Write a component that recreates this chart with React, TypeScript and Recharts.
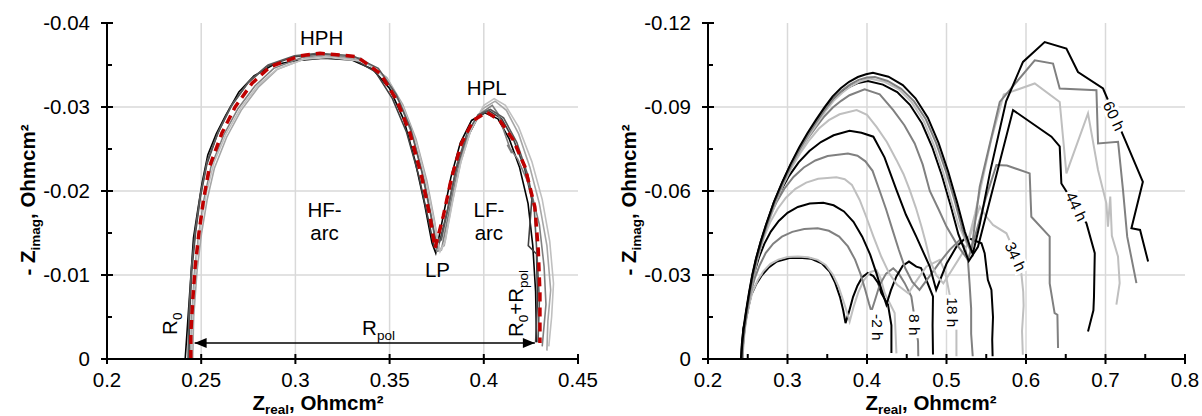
import React from "react";
import {
  LineChart,
  Line,
  XAxis,
  YAxis,
  ReferenceDot,
  ReferenceLine,
} from "recharts";

const FONT = "'Liberation Sans', Arial, Helvetica, sans-serif";

// ---------- left panel: repeated spectra at -2 h + fit ----------
const leftXTicks = [0.2, 0.25, 0.3, 0.35, 0.4, 0.45];
const leftYTicks = [-0.04, -0.035, -0.03, -0.025, -0.02, -0.015, -0.01, -0.005, 0];
const leftYMajor = [-0.04, -0.03, -0.02, -0.01, 0];

const run1 = [[0.2415,0],[0.2459,-0.0144],[0.2478,-0.0172],[0.2505,-0.021],[0.2535,-0.0243],[0.258,-0.0268],[0.263,-0.029],[0.27,-0.0318],[0.278,-0.0337],[0.288,-0.035],[0.3,-0.0355],[0.315,-0.0358],[0.33,-0.0356],[0.341,-0.0345],[0.35,-0.0322],[0.3575,-0.0285],[0.3635,-0.0236],[0.3685,-0.0185],[0.3725,-0.0138],[0.3745,-0.0126],[0.378,-0.0165],[0.3825,-0.0216],[0.3875,-0.0257],[0.3935,-0.0284],[0.4005,-0.0293],[0.4075,-0.0286],[0.4135,-0.0262],[0.419,-0.0228],[0.4235,-0.0185],[0.426,-0.0135],[0.4275,-0.008],[0.428,-0.002]];
const run2 = [[0.2435,0],[0.2438,-0.005],[0.245,-0.0105],[0.247,-0.015],[0.2495,-0.0192],[0.253,-0.0232],[0.2585,-0.0267],[0.2655,-0.03],[0.2745,-0.0328],[0.2845,-0.0348],[0.2995,-0.036],[0.3125,-0.0363],[0.3295,-0.0359],[0.3425,-0.0342],[0.3515,-0.031],[0.359,-0.027],[0.3655,-0.0218],[0.37,-0.0172],[0.3735,-0.0135],[0.376,-0.0135],[0.3805,-0.0175],[0.385,-0.0222],[0.3905,-0.026],[0.3965,-0.0287],[0.4025,-0.0296],[0.4095,-0.0286],[0.416,-0.026],[0.4215,-0.0228],[0.4255,-0.019],[0.4236,-0.0135],[0.428,-0.0125],[0.4285,-0.007],[0.4275,-0.002]];
const run3 = [[0.2445,0],[0.245,-0.005],[0.2465,-0.0105],[0.2488,-0.015],[0.2515,-0.019],[0.2552,-0.0229],[0.262,-0.0267],[0.2695,-0.0298],[0.2785,-0.0325],[0.2885,-0.0346],[0.3035,-0.0359],[0.3145,-0.0362],[0.3345,-0.0358],[0.347,-0.0337],[0.3555,-0.0305],[0.3625,-0.0264],[0.3685,-0.0212],[0.3725,-0.0165],[0.375,-0.0128],[0.3775,-0.013],[0.3815,-0.0175],[0.386,-0.0225],[0.3915,-0.0265],[0.398,-0.0292],[0.4045,-0.0302],[0.4075,-0.0292],[0.4148,-0.0245],[0.4125,-0.0255],[0.418,-0.0238],[0.4245,-0.0205],[0.4295,-0.016],[0.432,-0.011],[0.433,-0.0065],[0.431,-0.0015]];
const run4 = [[0.2455,0],[0.246,-0.005],[0.2478,-0.0105],[0.2502,-0.015],[0.2532,-0.019],[0.257,-0.0227],[0.2635,-0.0264],[0.2712,-0.0296],[0.2805,-0.0324],[0.2905,-0.0345],[0.3055,-0.0358],[0.316,-0.0361],[0.336,-0.0356],[0.3485,-0.0335],[0.357,-0.0303],[0.364,-0.0262],[0.3698,-0.0212],[0.3738,-0.0165],[0.3762,-0.013],[0.379,-0.0135],[0.3828,-0.0182],[0.3875,-0.0232],[0.393,-0.0272],[0.3995,-0.0298],[0.406,-0.0307],[0.412,-0.0296],[0.4185,-0.0268],[0.4245,-0.0228],[0.4295,-0.0185],[0.4335,-0.0135],[0.4355,-0.0082],[0.434,-0.0045],[0.4335,-0.001]];
const run5 = [[0.2448,0],[0.2455,-0.006],[0.2472,-0.0115],[0.2497,-0.016],[0.2528,-0.0198],[0.2568,-0.0234],[0.2632,-0.0268],[0.271,-0.0299],[0.2802,-0.0326],[0.2902,-0.0345],[0.305,-0.0357],[0.318,-0.0359],[0.3375,-0.0354],[0.349,-0.0332],[0.3575,-0.0298],[0.3645,-0.0255],[0.37,-0.0205],[0.374,-0.016],[0.3768,-0.0128],[0.3795,-0.014],[0.3835,-0.0188],[0.388,-0.0236],[0.3935,-0.0275],[0.4,-0.0302],[0.4055,-0.031],[0.4115,-0.0302],[0.4185,-0.0276],[0.4255,-0.0235],[0.431,-0.019],[0.435,-0.014],[0.437,-0.009],[0.436,-0.005],[0.4345,-0.0015]];
const run6 = [[0.243,0],[0.2435,-0.0055],[0.2448,-0.0108],[0.2468,-0.0152],[0.2495,-0.0195],[0.2532,-0.0236],[0.2592,-0.0271],[0.2665,-0.0303],[0.2755,-0.0331],[0.2855,-0.035],[0.2995,-0.0361],[0.312,-0.0364],[0.3305,-0.0361],[0.344,-0.0346],[0.3535,-0.0315],[0.3612,-0.0274],[0.3672,-0.0222],[0.3718,-0.0172],[0.3748,-0.0138],[0.3775,-0.0142],[0.3815,-0.0185],[0.3858,-0.0232],[0.391,-0.0268],[0.397,-0.0291],[0.4035,-0.0297],[0.4105,-0.0287],[0.4175,-0.0258],[0.4235,-0.0218],[0.4268,-0.0178],[0.4282,-0.0125],[0.4295,-0.007],[0.4288,-0.002]];
const fitCurve = [[0.2445,0],[0.2445,-0.003],[0.2455,-0.007],[0.2468,-0.011],[0.2488,-0.015],[0.2512,-0.0189],[0.2544,-0.0229],[0.261,-0.0269],[0.268,-0.03],[0.2769,-0.0328],[0.2866,-0.0348],[0.3025,-0.0361],[0.3131,-0.0364],[0.3326,-0.036],[0.345,-0.034],[0.3538,-0.0308],[0.3608,-0.0269],[0.367,-0.0217],[0.3714,-0.017],[0.3741,-0.0132],[0.3785,-0.017],[0.383,-0.0217],[0.3882,-0.0257],[0.3944,-0.0284],[0.4015,-0.0294],[0.4085,-0.0284],[0.4156,-0.0261],[0.4218,-0.0229],[0.4271,-0.0181],[0.4289,-0.013],[0.4298,-0.0078],[0.4298,-0.0019]];

const leftRuns = [run1, run2, run3, run4, run5, run6];
const leftColors = ["#000000", "#404040", "#7f7f7f", "#a6a6a6", "#c0c0c0", "#595959"];

// ---------- right panel: spectra over time ----------
const rightXTicks = [0.2, 0.25, 0.3, 0.35, 0.4, 0.45, 0.5, 0.55, 0.6, 0.65, 0.7, 0.75, 0.8];
const rightXMajor = [0.2, 0.3, 0.4, 0.5, 0.6, 0.7, 0.8];
const rightYTicks = [-0.12, -0.105, -0.09, -0.075, -0.06, -0.045, -0.03, -0.015, 0];
const rightYMajor = [-0.12, -0.09, -0.06, -0.03, 0];

const eis01 = [[0.242,0],[0.2425,-0.004],[0.2445,-0.011],[0.2488,-0.0155],[0.2512,-0.0189],[0.2544,-0.0229],[0.261,-0.0269],[0.268,-0.03],[0.2769,-0.0328],[0.2866,-0.0348],[0.3025,-0.0361],[0.315,-0.0362],[0.33,-0.0358],[0.343,-0.0342],[0.353,-0.0312],[0.36,-0.0272],[0.366,-0.0222],[0.37,-0.0175],[0.373,-0.0128],[0.3775,-0.017],[0.3825,-0.0222],[0.388,-0.0262],[0.394,-0.0292],[0.401,-0.0307],[0.408,-0.0296],[0.414,-0.0272],[0.418,-0.0235],[0.4264,-0.0194],[0.4307,-0.012],[0.4307,-0.0021]];
const eis02 = [[0.2435,0],[0.244,-0.005],[0.2458,-0.011],[0.2495,-0.0165],[0.2525,-0.0202],[0.256,-0.024],[0.2625,-0.0281],[0.2698,-0.0314],[0.2785,-0.034],[0.2885,-0.0355],[0.3,-0.0364],[0.313,-0.0366],[0.326,-0.0363],[0.338,-0.0354],[0.348,-0.0336],[0.357,-0.0302],[0.364,-0.026],[0.37,-0.021],[0.375,-0.0165],[0.3782,-0.0134],[0.383,-0.0185],[0.389,-0.0238],[0.396,-0.0281],[0.404,-0.031],[0.4118,-0.0318],[0.417,-0.029],[0.4223,-0.0235],[0.4348,-0.0164],[0.436,-0.009],[0.437,-0.002]];
const eis03 = [[0.243,0],[0.2445,-0.007],[0.247,-0.013],[0.2505,-0.019],[0.2545,-0.0245],[0.259,-0.029],[0.265,-0.0335],[0.2725,-0.0378],[0.282,-0.0412],[0.293,-0.0437],[0.306,-0.0454],[0.321,-0.0464],[0.338,-0.0467],[0.352,-0.0458],[0.365,-0.0437],[0.376,-0.0402],[0.385,-0.0355],[0.392,-0.0302],[0.398,-0.0245],[0.4025,-0.0198],[0.4055,-0.017],[0.41,-0.021],[0.416,-0.0265],[0.424,-0.0305],[0.433,-0.0324],[0.44,-0.0305],[0.4474,-0.0271],[0.4558,-0.0223],[0.4642,-0.0063],[0.4645,-0.001]];
const eis04 = [[0.243,0],[0.2443,-0.0065],[0.2465,-0.0125],[0.2498,-0.019],[0.2538,-0.0252],[0.2585,-0.031],[0.264,-0.0362],[0.271,-0.0412],[0.279,-0.0455],[0.289,-0.0493],[0.3,-0.0522],[0.313,-0.0543],[0.328,-0.0555],[0.345,-0.0558],[0.358,-0.0549],[0.371,-0.0527],[0.383,-0.049],[0.394,-0.0437],[0.404,-0.0373],[0.412,-0.0305],[0.4185,-0.0245],[0.4244,-0.0194],[0.43,-0.0245],[0.437,-0.0295],[0.445,-0.0333],[0.4528,-0.0348],[0.462,-0.033],[0.468,-0.0325],[0.475,-0.028],[0.483,-0.0223],[0.4825,-0.012],[0.483,-0.0016]];
const eis05 = [[0.2435,0],[0.2445,-0.0062],[0.2465,-0.0122],[0.2495,-0.0185],[0.2535,-0.0252],[0.258,-0.0315],[0.2635,-0.0375],[0.27,-0.0432],[0.278,-0.0487],[0.2875,-0.0536],[0.298,-0.0576],[0.31,-0.0608],[0.3235,-0.063],[0.3385,-0.0644],[0.3615,-0.0649],[0.372,-0.0642],[0.381,-0.0622],[0.3908,-0.0568],[0.399,-0.0508],[0.408,-0.0438],[0.418,-0.0365],[0.428,-0.0305],[0.438,-0.0265],[0.452,-0.0235],[0.46,-0.027],[0.4747,-0.033],[0.4915,-0.0354],[0.4985,-0.031],[0.504,-0.0229],[0.5125,-0.011],[0.5125,-0.001]];
const eis06 = [[0.2435,0],[0.2443,-0.0062],[0.2462,-0.0122],[0.2492,-0.0185],[0.2532,-0.0252],[0.2577,-0.0318],[0.263,-0.038],[0.2695,-0.0442],[0.277,-0.0502],[0.2858,-0.0558],[0.296,-0.0608],[0.3075,-0.065],[0.3205,-0.0684],[0.335,-0.0709],[0.3505,-0.0725],[0.376,-0.0734],[0.388,-0.0726],[0.398,-0.0706],[0.407,-0.0672],[0.416,-0.06],[0.424,-0.0535],[0.432,-0.0462],[0.44,-0.039],[0.448,-0.0325],[0.457,-0.0275],[0.466,-0.0247],[0.476,-0.0285],[0.49,-0.034],[0.504,-0.039],[0.5166,-0.0425],[0.523,-0.04],[0.527,-0.035],[0.529,-0.027],[0.531,-0.018],[0.531,-0.009],[0.533,-0.001]];
const eis07 = [[0.2425,0],[0.2435,-0.0055],[0.2455,-0.011],[0.2485,-0.017],[0.2525,-0.0238],[0.257,-0.0302],[0.2618,-0.0362],[0.2678,-0.0425],[0.2745,-0.0485],[0.2825,-0.0545],[0.2915,-0.0601],[0.302,-0.0654],[0.314,-0.0702],[0.3275,-0.0743],[0.342,-0.0775],[0.358,-0.0799],[0.378,-0.0815],[0.393,-0.0808],[0.408,-0.0794],[0.422,-0.072],[0.437,-0.0604],[0.449,-0.0515],[0.462,-0.0437],[0.479,-0.033],[0.487,-0.0247],[0.5,-0.034],[0.5125,-0.0401],[0.525,-0.0435],[0.544,-0.0413],[0.548,-0.0378],[0.552,-0.0283],[0.5565,-0.0247],[0.5585,-0.015],[0.5575,-0.007],[0.558,-0.001]];
const eis08 = [[0.2425,0],[0.2435,-0.0055],[0.2455,-0.011],[0.2485,-0.0168],[0.2525,-0.0236],[0.2568,-0.0298],[0.2612,-0.0355],[0.267,-0.0416],[0.2738,-0.0475],[0.2835,-0.0553],[0.2943,-0.0622],[0.3048,-0.0681],[0.316,-0.0735],[0.3275,-0.0782],[0.3395,-0.0823],[0.352,-0.0853],[0.3655,-0.0874],[0.387,-0.0889],[0.4,-0.0872],[0.412,-0.0829],[0.425,-0.0775],[0.437,-0.0711],[0.446,-0.066],[0.4537,-0.0604],[0.4615,-0.054],[0.4685,-0.0473],[0.474,-0.0415],[0.479,-0.0354],[0.487,-0.03],[0.496,-0.027],[0.505,-0.031],[0.515,-0.0355],[0.525,-0.0401],[0.5418,-0.0544],[0.5502,-0.0508],[0.5585,-0.0479],[0.5754,-0.0449],[0.586,-0.038],[0.594,-0.031],[0.5965,-0.024],[0.597,-0.019],[0.595,-0.01],[0.596,-0.0015]];
const eis09 = [[0.2425,0],[0.2435,-0.0052],[0.2455,-0.0107],[0.2485,-0.0166],[0.2525,-0.0235],[0.2565,-0.0297],[0.261,-0.0354],[0.267,-0.0415],[0.2735,-0.0473],[0.2835,-0.0554],[0.2943,-0.0626],[0.3045,-0.0686],[0.3153,-0.0742],[0.3255,-0.0788],[0.3363,-0.083],[0.3465,-0.0867],[0.357,-0.0898],[0.3675,-0.0922],[0.378,-0.0942],[0.397,-0.0963],[0.416,-0.0945],[0.433,-0.0889],[0.447,-0.0835],[0.46,-0.077],[0.47,-0.0695],[0.479,-0.06],[0.49,-0.0535],[0.5,-0.0473],[0.514,-0.0405],[0.527,-0.0354],[0.538,-0.046],[0.55,-0.058],[0.5628,-0.0693],[0.576,-0.0691],[0.6046,-0.0663],[0.6067,-0.0508],[0.6298,-0.0437],[0.6298,-0.027],[0.636,-0.0164],[0.6395,-0.0158],[0.6403,-0.0039]];
const eis10 = [[0.2415,0],[0.2425,-0.0052],[0.2445,-0.0107],[0.2475,-0.0166],[0.2515,-0.0236],[0.2555,-0.0298],[0.26,-0.0355],[0.266,-0.0417],[0.2725,-0.0475],[0.2825,-0.0557],[0.2933,-0.063],[0.3035,-0.0691],[0.3143,-0.0749],[0.3245,-0.0798],[0.3353,-0.0845],[0.3455,-0.0888],[0.356,-0.0926],[0.3665,-0.0952],[0.378,-0.0972],[0.389,-0.0986],[0.401,-0.0993],[0.42,-0.098],[0.438,-0.0953],[0.454,-0.0908],[0.469,-0.0842],[0.482,-0.0757],[0.494,-0.0657],[0.505,-0.055],[0.515,-0.0445],[0.528,-0.035],[0.5396,-0.0401],[0.5837,-0.0889],[0.632,-0.0794],[0.6424,-0.0759],[0.6445,-0.0627],[0.676,-0.0485],[0.6865,-0.0378],[0.6855,-0.0221],[0.6848,-0.0174],[0.678,-0.0098]];
const eis11 = [[0.2435,0],[0.2445,-0.0052],[0.2465,-0.0107],[0.2495,-0.0166],[0.2535,-0.0235],[0.2575,-0.0297],[0.262,-0.0354],[0.268,-0.0415],[0.2745,-0.0473],[0.2845,-0.0555],[0.2953,-0.0627],[0.3055,-0.0688],[0.3163,-0.0746],[0.3265,-0.0795],[0.3373,-0.0841],[0.3475,-0.0884],[0.358,-0.0922],[0.3685,-0.095],[0.379,-0.0973],[0.39,-0.099],[0.403,-0.1002],[0.422,-0.099],[0.44,-0.0963],[0.456,-0.0918],[0.471,-0.0852],[0.484,-0.0765],[0.496,-0.0665],[0.506,-0.0565],[0.515,-0.048],[0.526,-0.041],[0.536,-0.052],[0.556,-0.078],[0.572,-0.0945],[0.611,-0.0984],[0.6424,-0.0918],[0.6508,-0.0663],[0.678,-0.0877],[0.6906,-0.0675],[0.7011,-0.0556],[0.7031,-0.0473],[0.706,-0.058],[0.708,-0.044],[0.7157,-0.0366],[0.7178,-0.0271],[0.7137,-0.0194]];
const eis12 = [[0.243,0],[0.244,-0.0052],[0.246,-0.0107],[0.249,-0.0166],[0.253,-0.0236],[0.257,-0.0299],[0.2615,-0.0356],[0.2675,-0.0418],[0.274,-0.0476],[0.284,-0.0558],[0.2948,-0.0631],[0.305,-0.0693],[0.3158,-0.0751],[0.326,-0.0801],[0.3368,-0.0848],[0.347,-0.089],[0.3575,-0.0929],[0.368,-0.0958],[0.3785,-0.098],[0.3895,-0.0997],[0.3998,-0.1005],[0.41,-0.1007],[0.426,-0.0993],[0.443,-0.0965],[0.459,-0.0921],[0.474,-0.0856],[0.487,-0.0771],[0.499,-0.0673],[0.51,-0.0568],[0.52,-0.0463],[0.531,-0.038],[0.5418,-0.0615],[0.567,-0.0918],[0.611,-0.1067],[0.634,-0.1055],[0.6424,-0.0966],[0.6886,-0.096],[0.6906,-0.077],[0.7158,-0.0776],[0.722,-0.0604],[0.7273,-0.0437],[0.7389,-0.0271]];
const eis13 = [[0.242,0],[0.243,-0.0053],[0.245,-0.0108],[0.248,-0.0168],[0.252,-0.0238],[0.256,-0.0301],[0.2605,-0.0358],[0.2665,-0.042],[0.273,-0.0479],[0.283,-0.0561],[0.2938,-0.0634],[0.304,-0.0697],[0.3148,-0.0756],[0.325,-0.0806],[0.3358,-0.0854],[0.346,-0.0897],[0.3565,-0.0937],[0.367,-0.0967],[0.3775,-0.099],[0.3885,-0.1007],[0.3988,-0.1017],[0.4075,-0.1022],[0.427,-0.1008],[0.445,-0.0978],[0.461,-0.0931],[0.4765,-0.0862],[0.49,-0.0772],[0.502,-0.067],[0.513,-0.0562],[0.523,-0.0455],[0.533,-0.0375],[0.5418,-0.048],[0.555,-0.067],[0.575,-0.092],[0.5962,-0.1061],[0.6235,-0.1132],[0.6508,-0.1109],[0.6654,-0.1025],[0.6969,-0.0966],[0.725,-0.078],[0.747,-0.0633],[0.7326,-0.0467],[0.7435,-0.0461],[0.7536,-0.0348]];

const rightRuns = [eis01, eis02, eis03, eis04, eis05, eis06, eis07, eis08, eis09, eis10, eis11, eis12, eis13];
const rightColors = ["#000000", "#bfbfbf", "#808080"];

// time labels on the right panel: text, x, y, rotation
const timeLabels: [string, number, number, number][] = [
  ["-2 h", 0.4138, -0.0113, 90],
  ["8 h", 0.46, -0.0122, 90],
  ["18 h", 0.5072, -0.0167, 90],
  ["34 h", 0.5868, -0.0366, 65],
  ["44 h", 0.6634, -0.0544, 65],
  ["60 h", 0.7106, -0.0868, 65],
];

const pts = (a: number[][]) => a.map(([x, y]) => ({ x, y }));
const near = (list: number[], v: number) => list.some((m) => Math.abs(m - v) < 1e-9);

const makeXTick = (major: number[]) => (props: any) => {
  const { x, y, payload } = props;
  const v = payload.value;
  if (!near(major, v)) {
    return <line x1={x} x2={x} y1={y} y2={y - 5} stroke="#000" strokeWidth={2} />;
  }
  return (
    <g>
      <line x1={x} x2={x} y1={y - 5} y2={y + 5} stroke="#000" strokeWidth={2} />
      <text x={x} y={y + 28} textAnchor="middle" fontSize={20.5} fontFamily={FONT} fill="#000">
        {String(v)}
      </text>
    </g>
  );
};

const makeYTick = (major: number[]) => (props: any) => {
  const { x, y, payload } = props;
  const v = payload.value;
  if (!near(major, v)) {
    return <line x1={x} x2={x + 5} y1={y} y2={y} stroke="#000" strokeWidth={2} />;
  }
  return (
    <g>
      <line x1={x - 6} x2={x + 6} y1={y} y2={y} stroke="#000" strokeWidth={2} />
      <text x={x - 17} y={y + 7} textAnchor="end" fontSize={20.5} fontFamily={FONT} fill="#000">
        {v === 0 ? "0" : String(v)}
      </text>
    </g>
  );
};

const txt = (body: React.ReactNode, rot = 0) => (p: any) => (
  <text
    x={p.cx}
    y={p.cy}
    transform={rot ? `rotate(${rot}, ${p.cx}, ${p.cy})` : undefined}
    textAnchor="middle"
    fontSize={20.5}
    fontFamily={FONT}
    fill="#000"
  >
    {body}
  </text>
);

const twoLine = (a: string, b: string) => (p: any) => (
  <text x={p.cx} y={p.cy} textAnchor="middle" fontSize={20.5} fontFamily={FONT} fill="#000">
    <tspan x={p.cx}>{a}</tspan>
    <tspan x={p.cx} dy={23}>{b}</tspan>
  </text>
);

const arrowHead = (dir: number) => (p: any) => (
  <polygon
    points={`${p.cx},${p.cy} ${p.cx + dir * 12},${p.cy - 5} ${p.cx + dir * 12},${p.cy + 5}`}
    fill="#000"
  />
);

const tag = (label: string, rot: number) => (p: any) => {
  const w = label.length * 8.2 + 2;
  return (
    <g transform={`rotate(${rot}, ${p.cx}, ${p.cy})`}>
      <rect x={p.cx - w / 2} y={p.cy - 8} width={w} height={16} fill="#fff" />
      <text x={p.cx} y={p.cy + 5.5} textAnchor="middle" fontSize={15.5} fontFamily={FONT} fill="#000">
        {label}
      </text>
    </g>
  );
};

const gridLines = (xs: number[], ys: number[]) => [
  ...xs.map((v) => (
    <ReferenceLine key={"gx" + v} x={v} stroke="#d9d9d9" strokeWidth={1.5} />
  )),
  ...ys.map((v) => (
    <ReferenceLine key={"gy" + v} y={v} stroke="#d9d9d9" strokeWidth={1.5} />
  )),
];

// top and right axes only draw the frame of the plot area
const frame = (xd: [number, number], yd: [number, number]) => [
  <XAxis
    key="fx"
    xAxisId="frame"
    orientation="top"
    type="number"
    domain={xd}
    height={0}
    tick={false}
    tickLine={false}
    axisLine={{ stroke: "#000", strokeWidth: 2 }}
  />,
  <YAxis
    key="fy"
    yAxisId="frame"
    orientation="right"
    type="number"
    domain={yd}
    width={0}
    tick={false}
    tickLine={false}
    axisLine={{ stroke: "#000", strokeWidth: 2 }}
  />,
];

function LeftPanel() {
  return (
    <LineChart width={600} height={416} margin={{ top: 23, right: 22, bottom: 17, left: 47 }}>
      <XAxis
        type="number"
        dataKey="x"
        domain={[0.2, 0.45]}
        ticks={leftXTicks}
        interval={0}
        allowDataOverflow
        height={40}
        tickSize={0}
        tickMargin={0}
        tickLine={false}
        axisLine={{ stroke: "#000", strokeWidth: 2 }}
        tick={makeXTick(leftXTicks)}
      />
      <YAxis
        type="number"
        dataKey="y"
        domain={[-0.04, 0]}
        reversed
        ticks={leftYTicks}
        interval={0}
        allowDataOverflow
        width={60}
        tickSize={0}
        tickMargin={0}
        tickLine={false}
        axisLine={{ stroke: "#000", strokeWidth: 2 }}
        tick={makeYTick(leftYMajor)}
      />
      {frame([0.2, 0.45], [-0.04, 0])}
      {gridLines(leftXTicks.slice(1, -1), leftYMajor.slice(1, -1))}
      {leftRuns.map((r, i) => (
        <Line
          key={"l" + i}
          data={pts(r)}
          dataKey="y"
          type="linear"
          dot={false}
          stroke={leftColors[i]}
          strokeWidth={1.6}
          isAnimationActive={false}
        />
      ))}
      <Line
        data={pts(fitCurve)}
        dataKey="y"
        type="linear"
        dot={false}
        stroke="#c00000"
        strokeWidth={3.5}
        strokeDasharray="9 6"
        isAnimationActive={false}
      />
      <ReferenceLine
        segment={[{ x: 0.2465, y: -0.0019 }, { x: 0.4271, y: -0.0019 }]}
        stroke="#000"
        strokeWidth={1.5}
      />
      <ReferenceDot x={0.2465} y={-0.0019} r={0} shape={arrowHead(1)} />
      <ReferenceDot x={0.4271} y={-0.0019} r={0} shape={arrowHead(-1)} />
      <ReferenceDot x={0.3139} y={-0.0374} r={0} shape={txt("HPH")} />
      <ReferenceDot x={0.4016} y={-0.0314} r={0} shape={txt("HPL")} />
      <ReferenceDot x={0.3155} y={-0.0169} r={0} shape={twoLine("HF-", "arc")} />
      <ReferenceDot x={0.4027} y={-0.0169} r={0} shape={twoLine("LF-", "arc")} />
      <ReferenceDot x={0.3754} y={-0.0098} r={0} shape={txt("LP")} />
      <ReferenceDot
        x={0.2371}
        y={-0.0042}
        r={0}
        shape={txt(<>R<tspan fontSize={13.5} dy={5}>0</tspan></>, -90)}
      />
      <ReferenceDot
        x={0.3441}
        y={-0.0029}
        r={0}
        shape={txt(<>R<tspan fontSize={13.5} dy={5}>pol</tspan></>)}
      />
      <ReferenceDot
        x={0.4206}
        y={-0.0066}
        r={0}
        shape={txt(
          <>
            R<tspan fontSize={13.5} dy={5}>0</tspan>
            <tspan dy={-5}>+R</tspan>
            <tspan fontSize={13.5} dy={5}>pol</tspan>
          </>,
          -90
        )}
      />
    </LineChart>
  );
}

function RightPanel() {
  return (
    <LineChart width={600} height={416} margin={{ top: 23, right: 15, bottom: 17, left: 48 }}>
      <XAxis
        type="number"
        dataKey="x"
        domain={[0.2, 0.8]}
        ticks={rightXTicks}
        interval={0}
        allowDataOverflow
        height={40}
        tickSize={0}
        tickMargin={0}
        tickLine={false}
        axisLine={{ stroke: "#000", strokeWidth: 2 }}
        tick={makeXTick(rightXMajor)}
      />
      <YAxis
        type="number"
        dataKey="y"
        domain={[-0.12, 0]}
        reversed
        ticks={rightYTicks}
        interval={0}
        allowDataOverflow
        width={60}
        tickSize={0}
        tickMargin={0}
        tickLine={false}
        axisLine={{ stroke: "#000", strokeWidth: 2 }}
        tick={makeYTick(rightYMajor)}
      />
      {frame([0.2, 0.8], [-0.12, 0])}
      {gridLines(rightXMajor.slice(1, -1), rightYMajor.slice(1, -1))}
      {rightRuns.map((r, i) => (
        <Line
          key={"r" + i}
          data={pts(r)}
          dataKey="y"
          type="linear"
          dot={false}
          stroke={rightColors[i % 3]}
          strokeWidth={2}
          isAnimationActive={false}
        />
      ))}
      {timeLabels.map(([t, x, y, rot]) => (
        <ReferenceDot key={t} x={x} y={y} r={0} shape={tag(t, rot)} />
      ))}
    </LineChart>
  );
}

const AxisTitles = () => (
  <svg
    width={1202}
    height={416}
    style={{ position: "absolute", left: 0, top: 0, pointerEvents: "none" }}
  >
    {[
      { xt: 318, yt: 35 },
      { xt: 931, yt: 636 },
    ].map(({ xt, yt }, i) => (
      <g key={i} fontFamily={FONT} fontWeight="bold" fontSize={20.5} fill="#000">
        <text x={xt} y={410} textAnchor="middle">
          Z<tspan fontSize={13.5} dy={4}>real</tspan>
          <tspan dy={-4}>, Ohmcm²</tspan>
        </text>
        <text transform={`translate(${yt},200) rotate(-90)`} textAnchor="middle">
          - Z<tspan fontSize={13.5} dy={5}>imag</tspan>
          <tspan dy={-5}>, Ohmcm²</tspan>
        </text>
      </g>
    ))}
  </svg>
);

export default function App() {
  return (
    <div style={{ position: "absolute", left: 0, top: 0, width: 1202, height: 416, background: "#fff" }}>
      <div style={{ position: "absolute", left: 0, top: 0 }}>
        <LeftPanel />
      </div>
      <div style={{ position: "absolute", left: 600, top: 0 }}>
        <RightPanel />
      </div>
      <AxisTitles />
    </div>
  );
}
